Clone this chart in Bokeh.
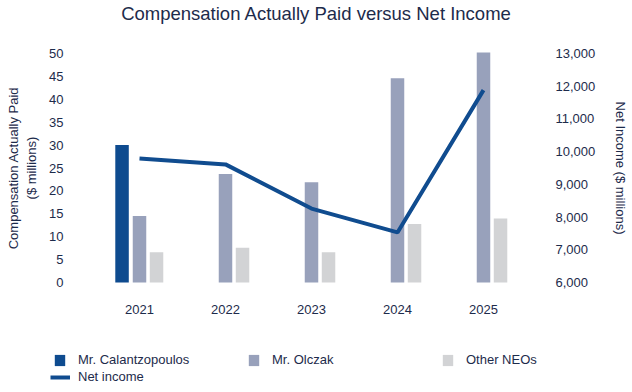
from bokeh.plotting import figure
from bokeh.models import (ColumnDataSource, Range1d, LinearAxis, FixedTicker,
                          NumeralTickFormatter, Legend, LegendItem, Title)
from bokeh.transform import dodge
from bokeh.embed import file_html
from bokeh.resources import INLINE

years = [2021, 2022, 2023, 2024, 2025]
calantzopoulos = [30.0, 0, 0, 0, 0]
olczak = [14.5, 23.7, 21.9, 44.6, 50.2]
other_neos = [6.6, 7.6, 6.6, 12.8, 14.0]
net_income = [9790, 9610, 8260, 7530, 11880]

left_ticks = [0, 5, 10, 15, 20, 25, 30, 35, 40, 45, 50]
right_ticks = [6000, 7000, 8000, 9000, 10000, 11000, 12000, 13000]

names = ["Mr. Calantzopoulos", "Mr. Olczak", "Other NEOs", "Net income"]

C_CAL = "#0e4b8f"
C_OLC = "#98a1bb"
C_OTH = "#d2d3d5"
C_LINE = "#104c8f"
TXT = "#1d2b4b"
FONT = "Liberation Sans"

# ---- layout geometry (pixels) ----
W, H = 632, 388
TOP = 23                 # frame top (title panel above)
Y_HI, Y_LO = 53, 282     # pixel rows of the value axes' top / bottom
X_FIRST, PITCH = 139, 86 # pixel column of the first category, spacing

lo_scale = (Y_LO - Y_HI) / (left_ticks[-1] - left_ticks[0])
hi_scale = (Y_LO - Y_HI) / (right_ticks[-1] - right_ticks[0])
x_start = years[0] - X_FIRST / PITCH
x_end = x_start + W / PITCH
yl = Range1d(left_ticks[0] - (H - Y_LO) / lo_scale, left_ticks[-1] + (Y_HI - TOP) / lo_scale)
yr = Range1d(right_ticks[0] - (H - Y_LO) / hi_scale, right_ticks[-1] + (Y_HI - TOP) / hi_scale)

src = ColumnDataSource(dict(year=years, cal=calantzopoulos, olc=olczak, oth=other_neos, ni=net_income))

p = figure(x_range=Range1d(x_start, x_end), y_range=yl,
           frame_width=W, frame_height=H - TOP, output_backend="svg", toolbar_location=None,
           min_border_left=0, min_border_right=0, min_border_top=TOP, min_border_bottom=0)
p.outline_line_color = None
p.grid.grid_line_color = None
p.extra_y_ranges = {"ni": yr}

bw = 0.157
r_cal = p.vbar(x=dodge("year", -0.203), top="cal", width=bw, source=src,
               fill_color=C_CAL, line_color=None)
r_olc = p.vbar(x=dodge("year", 0.0), top="olc", width=bw, source=src,
               fill_color=C_OLC, line_color=None)
r_oth = p.vbar(x=dodge("year", 0.198), top="oth", width=bw, source=src,
               fill_color=C_OTH, line_color=None)
r_line = p.line(x="year", y="ni", source=src, y_range_name="ni", line_color=C_LINE, line_width=4)

def style_axis(ax):
    ax.axis_line_color = None
    ax.major_tick_line_color = None
    ax.minor_tick_line_color = None
    ax.major_tick_out = 0
    ax.major_tick_in = 0
    ax.major_label_text_font = FONT
    ax.major_label_text_font_size = "13px"
    ax.major_label_text_color = TXT
    ax.axis_label_text_font = FONT
    ax.axis_label_text_font_size = "13px"
    ax.axis_label_text_color = TXT
    ax.axis_label_text_font_style = "normal"

xa = p.xaxis[0]
style_axis(xa)
xa.ticker = FixedTicker(ticks=years)
xa.fixed_location = left_ticks[0]
xa.major_label_standoff = 22

ya = p.yaxis[0]
style_axis(ya)
ya.ticker = FixedTicker(ticks=left_ticks)
ya.fixed_location = years[0] - 0.5
ya.bounds = (left_ticks[0], left_ticks[-1])
ya.major_label_standoff = 33
ya.axis_label = "Compensation Actually Paid\n($ millions)"
ya.axis_label_standoff = 7

ra = LinearAxis(y_range_name="ni", ticker=FixedTicker(ticks=right_ticks),
                formatter=NumeralTickFormatter(format="0,0"),
                axis_label="Net Income ($ millions)")
style_axis(ra)
ra.fixed_location = years[-1] + 0.5
ra.bounds = (right_ticks[0], right_ticks[-1])
ra.major_label_standoff = 29
ra.axis_label_standoff = 15
p.add_layout(ra, "right")

p.title = Title(text="Compensation Actually Paid versus Net Income", align="center",
                text_font=FONT, text_font_size="18.5px", text_font_style="normal",
                text_color=TXT, standoff=0)

def mk_legend(items, loc, gw, standoff, lw):
    return Legend(items=items, location=loc, orientation="horizontal",
                  glyph_width=gw, glyph_height=14, label_standoff=standoff,
                  label_width=lw, label_height=14, spacing=0, padding=0, margin=0,
                  border_line_color=None, background_fill_alpha=0,
                  label_text_font=FONT, label_text_font_size="13px", label_text_color=TXT)

lg1 = mk_legend([LegendItem(label=names[0], renderers=[r_cal]),
                 LegendItem(label=names[1], renderers=[r_olc]),
                 LegendItem(label=names[2], renderers=[r_oth])], (53, 21), 13, 12, 169)
lg2 = mk_legend([LegendItem(label=names[3], renderers=[r_line])], (50, 4), 20, 8, 20)
p.add_layout(lg1, "center")
p.add_layout(lg2, "center")

open("out.html", "w").write(file_html(p, INLINE))
